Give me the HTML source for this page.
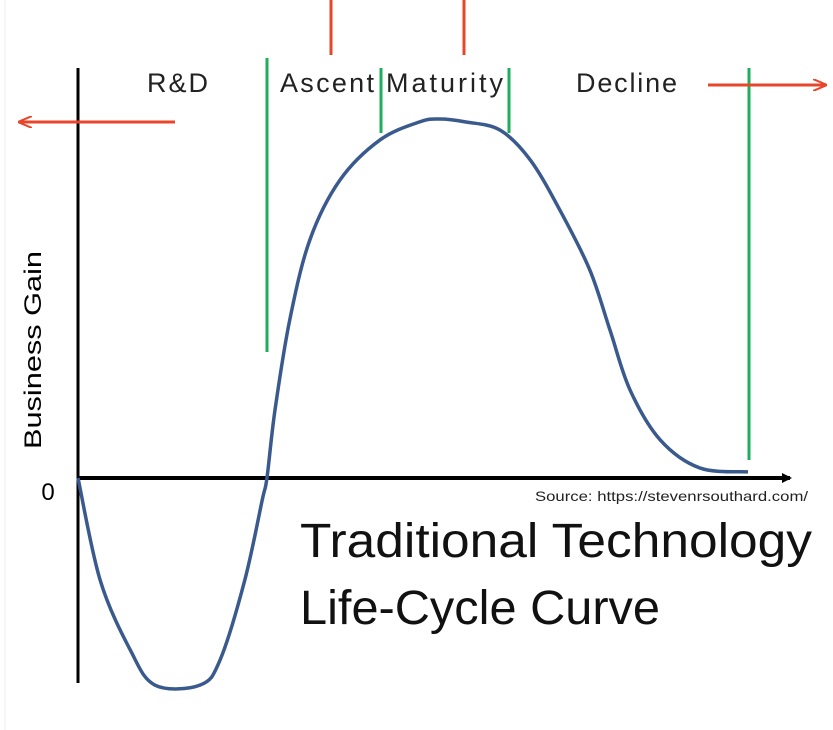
<!DOCTYPE html>
<html><head><meta charset="utf-8"><style>
html,body{margin:0;padding:0;background:#fff;}
svg{display:block;}
text{font-family:"Liberation Sans",sans-serif;}
</style></head><body>
<svg width="833" height="730" viewBox="0 0 833 730">
<defs><marker id="ah" markerWidth="10" markerHeight="10" refX="8" refY="5" orient="auto" markerUnits="userSpaceOnUse"><path d="M0,0 L10,5 L0,10 z" fill="#000"/></marker>
<marker id="rh" markerWidth="14" markerHeight="12" refX="12" refY="6" orient="auto" markerUnits="userSpaceOnUse"><path d="M0,0 L14,6 L0,12" fill="none" stroke="#e8462a" stroke-width="2"/></marker></defs>
<line x1="5" y1="0" x2="5" y2="730" stroke="#eee" stroke-width="1"/>
<line x1="78" y1="68" x2="78" y2="683" stroke="#000" stroke-width="3"/>
<line x1="78" y1="478" x2="790" y2="478" stroke="#000" stroke-width="4" marker-end="url(#ah)"/>
<text x="48" y="500" font-size="24" text-anchor="middle">0</text>
<text transform="translate(41,350) rotate(-90)" font-size="24" text-anchor="middle" textLength="198" lengthAdjust="spacingAndGlyphs">Business Gain</text>
<g stroke="#1fae5b" stroke-width="3">
<line x1="267" y1="58" x2="267" y2="352"/>
<line x1="381" y1="68" x2="381" y2="133"/>
<line x1="509" y1="68" x2="509" y2="133"/>
<line x1="749" y1="68" x2="749" y2="460"/>
</g>
<g stroke="#e8462a" stroke-width="3">
<line x1="331" y1="0" x2="331" y2="55"/>
<line x1="464" y1="0" x2="464" y2="55"/>
<line x1="175" y1="122" x2="20" y2="122" marker-end="url(#rh)"/>
<line x1="708" y1="85" x2="825" y2="85" marker-end="url(#rh)"/>
</g>
<g font-size="27" fill="#222" lengthAdjust="spacingAndGlyphs">
<text x="147" y="92" textLength="61">R&amp;D</text>
<text x="280" y="92" textLength="94">Ascent</text>
<text x="386" y="92" textLength="117">Maturity</text>
<text x="576" y="92" textLength="101">Decline</text>
</g>
<text x="535" y="501" font-size="14" fill="#222" textLength="273" lengthAdjust="spacingAndGlyphs">Source: https://stevenrsouthard.com/</text>
<text x="300" y="557" font-size="48" fill="#111" textLength="512" lengthAdjust="spacingAndGlyphs">Traditional Technology</text>
<text x="300" y="624" font-size="48" fill="#111" textLength="360" lengthAdjust="spacingAndGlyphs">Life-Cycle Curve</text>
<path id="curve" fill="none" stroke="#3a5a8e" stroke-width="3.5"/>
</svg>
<script>
const timeVals=[0,3.3,7.8,11.5,18.2,21.2,24.9,27.5,28.2,29.4,31.6,34.6,39.1,45.1,51,54,57.8,63,67.5,71.9,76.4,79.4,82.4,86.9,92.8,100];
const gainVals=[0,-28.4,-47.9,-57.7,-57.7,-50.7,-28.4,-6.1,0,18.9,44,66.3,83,94.2,99.2,100,99.2,96.9,88.6,74.7,57.9,41.2,24.5,10.6,2.8,1.7];
function xs(v){return 78+v*6.7;}
function ys(v){return 478-v*3.59;}
const p=timeVals.map((t,i)=>[xs(t),ys(gainVals[i])]);
let d="M"+p[0][0]+","+p[0][1];
for(let i=0;i<p.length-1;i++){
const a=p[Math.max(0,i-1)],b=p[i],c=p[i+1],e=p[Math.min(p.length-1,i+2)];
d+=" C"+(b[0]+(c[0]-a[0])/6)+","+(b[1]+(c[1]-a[1])/6)+" "+(c[0]-(e[0]-b[0])/6)+","+(c[1]-(e[1]-b[1])/6)+" "+c[0]+","+c[1];}
document.getElementById('curve').setAttribute('d',d);
</script>
</body></html>
